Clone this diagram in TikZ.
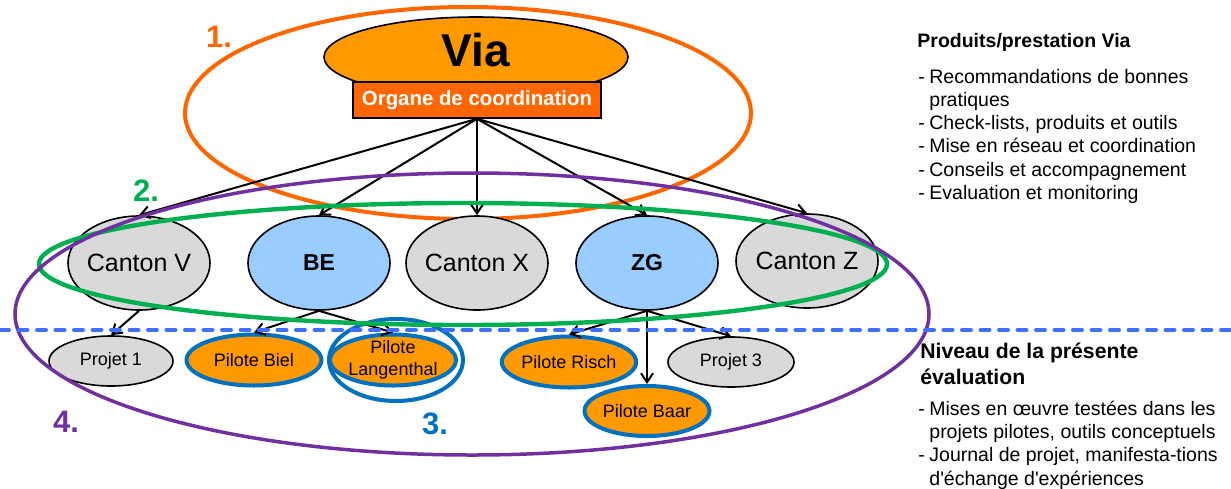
\documentclass[tikz,border=0pt]{standalone}
\usepackage{fontspec}
\setmainfont{Liberation Sans}
\usetikzlibrary{arrows.meta, positioning, shapes.geometric}
\definecolor{viaOrange}{HTML}{FF9900}
\definecolor{coordOrange}{HTML}{FF6600}
\definecolor{ringGreen}{HTML}{00B050}
\definecolor{ringPurple}{HTML}{7030A0}
\definecolor{ringBlue}{HTML}{0070C0}
\definecolor{cantonGrey}{HTML}{D9D9D9}
\definecolor{cantonBlue}{HTML}{99CCFF}
\definecolor{levelBlue}{HTML}{3F6FFF}

\tikzset{
  canton/.style={ellipse, draw=black, line width=0.8pt, fill=cantonGrey,
    minimum width=71pt, minimum height=47pt, inner sep=-6pt,
    font=\fontsize{12.5}{14}\selectfont},
  pilotcanton/.style={canton, fill=cantonBlue, font=\fontsize{11.5}{13}\selectfont\bfseries},
  projet/.style={ellipse, draw=black, line width=0.8pt, fill=cantonGrey,
    minimum width=62pt, minimum height=25pt, inner sep=0pt,
    font=\fontsize{9}{11}\selectfont},
  pilote/.style={projet, draw=ringBlue, line width=2pt, fill=viaOrange},
  link/.style={-{Straight Barb[length=4.5pt,width=6pt]}, line width=1pt},
  ring/.style={line width=2pt},
  stepnum/.style={font=\fontsize{15.5}{18}\selectfont\bfseries},
  sidetext/.style={anchor=base west, inner sep=0pt, font=\fontsize{9.75}{11}\selectfont},
}

\begin{document}
\begin{tikzpicture}[x=0.5pt, y=-0.5pt]
  \useasboundingbox (0,0) rectangle (1231,488);

  % 1. Via and its coordination body
  \draw[ring, coordOrange] (468,113) ellipse [x radius=141.5pt, y radius=53pt];
  \node[ellipse, draw=black, line width=0.8pt, fill=viaOrange, inner sep=0pt,
    minimum width=152pt, minimum height=40pt] (via) at (476,57) {};
  \node[font=\fontsize{23}{25}\selectfont\bfseries] (viatext) at (476,50) {Via};
  \node[draw=black, line width=0.8pt, fill=coordOrange, text=white, inner sep=0pt,
    minimum width=124pt, minimum height=18pt, font=\fontsize{10.2}{12}\selectfont\bfseries]
    (organe) at (477,100) {Organe de coordination};

  % 2. cantons
  \node[canton] (cV) at (139,263) {Canton V};
  \node[pilotcanton] (cBE) at (319,263) {BE};
  \node[canton] (cX) at (477,263) {Canton X};
  \node[pilotcanton] (cZG) at (647,263) {ZG};
  \node[canton] (cZ) at (807,261) {Canton Z};
  \foreach \c in {cV,cBE,cX,cZG,cZ}
    \draw[link] (organe.south) -- (\c.north);

  % 3. projects and pilots
  \node[projet] (p1) at (111,361) {Projet 1};
  \node[pilote, minimum width=67.5pt, minimum height=25.5pt] (biel) at (254,360) {Pilote Biel};
  \node[pilote, minimum width=61pt, minimum height=25.5pt, inner ysep=-4pt, align=center,
    font=\fontsize{9}{11}\selectfont] (lang) at (393,360) {Pilote\\Langenthal};
  \node[pilote, minimum width=63pt, minimum height=25.5pt] (risch) at (569,362) {Pilote Risch};
  \node[projet, minimum width=63pt] (p3) at (731,362) {Projet 3};
  \node[pilote, minimum width=62.5pt, minimum height=25pt] (baar) at (647,411) {Pilote Baar};
  \draw[ring, ringBlue] (396,360) ellipse [x radius=33.5pt, y radius=20.5pt];

  \draw[link] (cV.south) -- (p1.north);
  \foreach \p in {biel,lang}
    \draw[link] (cBE.south) -- (\p.north);
  \foreach \p in {risch,p3,baar}
    \draw[link] (cZG.south) -- (\p.north);

  % group rings
  \draw[line width=2.2pt, ringGreen] (463,264) ellipse [x radius=212pt, y radius=30.5pt];
  \draw[line width=1.75pt, ringPurple] (472,314) ellipse [x radius=228.5pt, y radius=70.5pt];

  % evaluation level
  \coordinate (levelL) at (0,330);
  \coordinate (levelR) at (1231,330);
  \draw[levelBlue, line width=2pt, line cap=round, dash pattern=on 4.5pt off 4.75pt]
    (levelL) -- (levelR);

  % numbering
  \node[stepnum, text=coordOrange] (num1) at (219,37) {1.};
  \node[stepnum, text=ringGreen] (num2) at (146,191) {2.};
  \node[stepnum, text=ringBlue] (num3) at (435,424) {3.};
  \node[stepnum, text=ringPurple] (num4) at (66,422) {4.};

  % side texts
  \node[sidetext, font=\fontsize{9.75}{11}\selectfont\bfseries] (prodhead) at (917,47.3)
    {Produits/prestation Via};
  \foreach \y/\txt [count=\i] in {83.3/Recommandations de bonnes, 106.5/pratiques,
      129.7/{Check-lists, produits et outils}, 152.9/Mise en réseau et coordination,
      176.1/Conseils et accompagnement, 199.3/Evaluation et monitoring}
    \node[sidetext] (prod\i) at (929,\y) {\txt};
  \foreach \y [count=\i] in {83.3,129.7,152.9,176.1,199.3}
    \node[sidetext] (proddash\i) at (918,\y) {-};

  \node[sidetext, font=\fontsize{10.6}{12}\selectfont\bfseries] (evalhead1) at (920,358.3)
    {Niveau de la présente};
  \node[sidetext, font=\fontsize{10.6}{12}\selectfont\bfseries] (evalhead2) at (920,384)
    {évaluation};
  \foreach \y/\txt [count=\i] in {415/Mises en œuvre testées dans les,
      438.3/{projets pilotes, outils conceptuels}, 461.7/{Journal de projet, manifesta-tions},
      485/d\textquotesingle échange d\textquotesingle expériences}
    \node[sidetext] (eval\i) at (929,\y) {\txt};
  \foreach \y [count=\i] in {415,461.7}
    \node[sidetext] (evaldash\i) at (918,\y) {-};
\end{tikzpicture}
\end{document}
